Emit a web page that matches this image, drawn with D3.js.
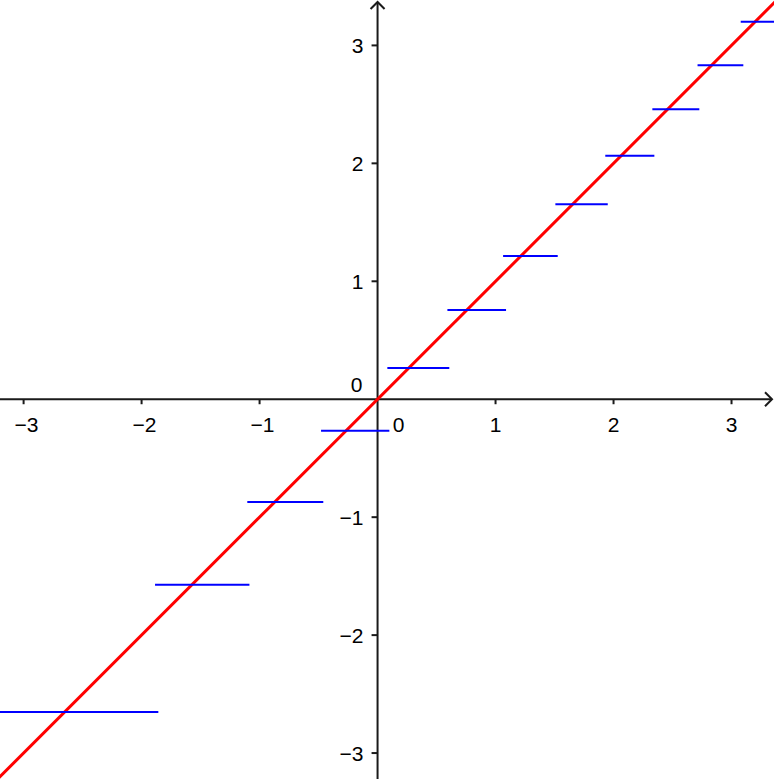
<!DOCTYPE html>
<html>
<head>
<meta charset="utf-8">
<script src="https://cdn.jsdelivr.net/npm/d3@7"></script>
<style>
  body { margin: 0; background: #fff; }
  svg { display: block; }
  text { font-family: "Liberation Sans", Arial, sans-serif; font-size: 21px; fill: #000; }
</style>
</head>
<body>
<svg id="chart" width="774" height="779"></svg>
<script>
// horizontal steps: start x, end x, level
const stepStart = [-3.3, -1.886, -1.104, -0.479, 0.083, 0.592, 1.064, 1.507, 1.930, 2.329, 2.712, 3.078];
const stepEnd   = [-1.858, -1.086, -0.460, 0.100, 0.608, 1.089, 1.527, 1.951, 2.346, 2.727, 3.100, 3.4];
const stepLevel = [-2.651, -1.572, -0.871, -0.267, 0.264, 0.756, 1.214, 1.654, 2.064, 2.459, 2.832, 3.201];

// red line y = x
const lineX = [-3.4, 3.5];

const xTicks = [-3, -2, -1, 1, 2, 3];
const yTicks = [-3, -2, -1, 1, 2, 3];

const width = 774, height = 779;
const svg = d3.select("#chart");

const x = d3.scaleLinear().domain([-3.2, 3.36]).range([0, width]);
const y = d3.scaleLinear().domain([-3.22, 3.385]).range([height, 0]);

const x0 = x(0), y0 = y(0);
const axisColor = "#1a1a1a";

//axes
const axes = svg.append("g")
    .attr("stroke", axisColor)
    .attr("stroke-width", 2)
    .attr("fill", "none");

axes.append("line")
    .attr("x1", 0).attr("x2", width - 2)
    .attr("y1", y0).attr("y2", y0);
axes.append("line")
    .attr("x1", x0).attr("x2", x0)
    .attr("y1", 2).attr("y2", height);

//arrow heads
axes.append("path")
    .attr("d", `M${width - 9},${y0 - 7}L${width - 2},${y0}L${width - 9},${y0 + 7}`);
axes.append("path")
    .attr("d", `M${x0 - 7},${9}L${x0},${2}L${x0 + 7},${9}`);

//ticks
axes.selectAll(".xt")
    .data(xTicks)
    .join("line")
    .attr("x1", d => x(d)).attr("x2", d => x(d))
    .attr("y1", y0).attr("y2", y0 + 5);
axes.selectAll(".yt")
    .data(yTicks)
    .join("line")
    .attr("class", "yt")
    .attr("x1", x0 - 6).attr("x2", x0)
    .attr("y1", d => y(d)).attr("y2", d => y(d));

//tick labels
const fmt = d => d < 0 ? "\u2212" + Math.abs(d) : String(d);

svg.append("g").selectAll("text")
    .data(xTicks)
    .join("text")
    .attr("x", d => x(d) + (d < 0 ? 3 : 0))
    .attr("y", y0 + 33)
    .attr("text-anchor", "middle")
    .text(fmt);

svg.append("g").selectAll("text")
    .data(yTicks)
    .join("text")
    .attr("x", x0 - 14)
    .attr("y", d => y(d) + 8)
    .attr("text-anchor", "end")
    .text(fmt);

// zero labels
svg.append("text")
    .attr("x", x0 + 21).attr("y", y0 + 33)
    .attr("text-anchor", "middle")
    .text("0");
svg.append("text")
    .attr("x", x0 - 15).attr("y", y0 - 7)
    .attr("text-anchor", "end")
    .text("0");

//red line
svg.append("line")
    .attr("x1", x(lineX[0])).attr("y1", y(lineX[0]))
    .attr("x2", x(lineX[1])).attr("y2", y(lineX[1]))
    .attr("stroke", "#ff0000")
    .attr("stroke-width", 3);

//blue steps
svg.append("g").selectAll("line")
    .data(stepLevel.map((v, i) => ({x1: stepStart[i], x2: stepEnd[i], v: v})))
    .join("line")
    .attr("x1", d => x(d.x1)).attr("x2", d => x(d.x2))
    .attr("y1", d => y(d.v)).attr("y2", d => y(d.v))
    .attr("stroke", "#0000ff")
    .attr("stroke-width", 2);
</script>
</body>
</html>
